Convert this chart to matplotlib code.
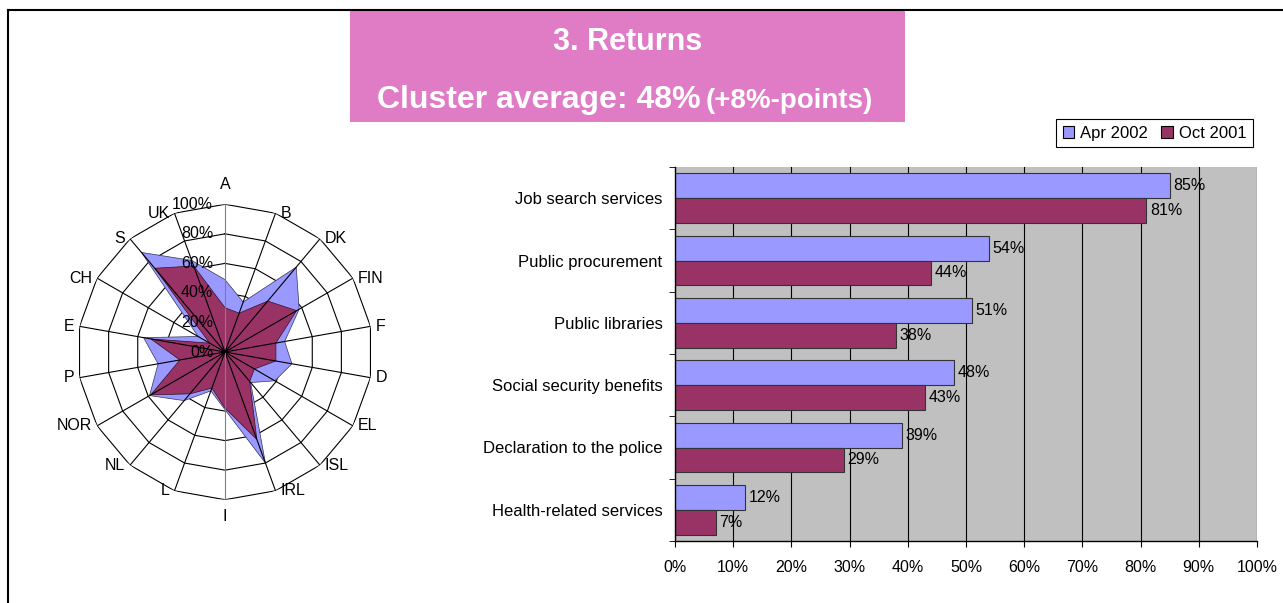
import numpy as np
import matplotlib
matplotlib.use('Agg')
import matplotlib.pyplot as plt
from matplotlib.patches import Rectangle, Patch
from matplotlib.lines import Line2D

plt.rcParams['font.family'] = ['Liberation Sans', 'DejaVu Sans']

# Radar data, clockwise from the top
countries = ['A', 'B', 'DK', 'FIN', 'F', 'D', 'EL', 'ISL', 'IRL', 'I',
             'L', 'NL', 'NOR', 'P', 'E', 'CH', 'S', 'UK']
radar_apr2002 = [49, 36, 75, 58, 41, 46, 39, 27, 80, 39, 28, 43, 59, 46, 56, 21, 88, 66]
radar_oct2001 = [30, 28, 45, 56, 35, 35, 23, 26, 63, 38, 26, 37, 58, 31, 51, 12, 74, 62]
ring_levels = [0, 20, 40, 60, 80, 100]

# Bar data, top to bottom
services = ['Job search services', 'Public procurement', 'Public libraries',
            'Social security benefits', 'Declaration to the police',
            'Health-related services']
bar_apr2002 = [85, 54, 51, 48, 39, 12]
bar_oct2001 = [81, 44, 38, 43, 29, 7]
x_ticks = [0, 10, 20, 30, 40, 50, 60, 70, 80, 90, 100]

BLUE = '#9999FF'
PURPLE = '#993366'
PINK = '#E07CC5'

W, H = 1283, 603
fig = plt.figure(figsize=(W / 100, H / 100), dpi=100)


def fx(px):
    return px / W


def fy(py):
    return 1 - py / H


# Frame
fig.add_artist(Line2D([fx(8), 1], [fy(10), fy(10)], color='black', lw=1.5))
fig.add_artist(Line2D([fx(8), fx(8)], [fy(10), 0], color='black', lw=1.5))

# Title box
fig.add_artist(Rectangle((fx(350), fy(122)), fx(905) - fx(350), fy(11) - fy(122),
                         facecolor=PINK, edgecolor='none'))
fig.text(fx(628), fy(50), '3. Returns', ha='center', va='baseline',
         color='white', fontsize=22, fontweight='bold')
fig.text(fx(701), fy(108), 'Cluster average: 48%', ha='right', va='baseline',
         color='white', fontsize=23, fontweight='bold')
fig.text(fx(706), fy(108), '(+8%-points)', ha='left', va='baseline',
         color='white', fontsize=20, fontweight='bold')

# Radar chart
ax_r = fig.add_axes([fx(77.3), fy(499.7), 295.4 / W, 295.4 / H], projection='polar')
ax_r.set_theta_zero_location('N')
ax_r.set_theta_direction(-1)
ax_r.set_ylim(0, 100)
ax_r.axis('off')

theta = np.deg2rad(np.arange(len(countries)) * 360 / len(countries))
theta_c = np.append(theta, theta[0])

for lvl in ring_levels[1:]:
    ax_r.plot(theta_c, [lvl] * len(theta_c), color='black', lw=0.8, zorder=1)

apr_c = radar_apr2002 + radar_apr2002[:1]
oct_c = radar_oct2001 + radar_oct2001[:1]
ax_r.fill(theta_c, apr_c, facecolor=BLUE, edgecolor='#333355', lw=0.5, zorder=2)
ax_r.fill(theta_c, oct_c, facecolor=PURPLE, edgecolor='#331122', lw=0.5, zorder=3)

for k, t in enumerate(theta):
    col = '#808080' if k in (0, 9) else 'black'
    ax_r.plot([t, t], [0, 100], color=col, lw=0.8, zorder=4)

for lvl in ring_levels:
    ax_r.annotate(f'{lvl}%', xy=(0, lvl), xytext=(-8.5, 0), textcoords='offset points',
                  ha='right', va='center', fontsize=11.5, zorder=5)

for k, name in enumerate(countries):
    deg = k * 360 / len(countries)
    if deg == 0:
        off, ha, va = (0, 9), 'center', 'bottom'
    elif deg == 180:
        off, ha, va = (0, -7), 'center', 'top'
    elif deg < 180:
        off, ha, va = (3.5, 0), 'left', 'center'
    else:
        off, ha, va = (-3.5, 0), 'right', 'center'
    ax_r.annotate(name, xy=(theta[k], 100), xytext=off, textcoords='offset points',
                  ha=ha, va=va, fontsize=11.5)

# Bar chart
ax_b = fig.add_axes([fx(675), fy(541), (1257 - 675) / W, (541 - 167) / H])
ax_b.set_facecolor('#C0C0C0')
y = np.arange(len(services))
ax_b.barh(y - 0.2, bar_apr2002, height=0.4, color=BLUE, edgecolor='#333333', lw=0.8)
ax_b.barh(y + 0.2, bar_oct2001, height=0.4, color=PURPLE, edgecolor='#333333', lw=0.8)

for yy, v in zip(y - 0.2, bar_apr2002):
    ax_b.annotate(f'{v}%', xy=(v, yy), xytext=(2.5, 0), textcoords='offset points',
                  ha='left', va='center', fontsize=11.5)
for yy, v in zip(y + 0.2, bar_oct2001):
    ax_b.annotate(f'{v}%', xy=(v, yy), xytext=(2.5, 0), textcoords='offset points',
                  ha='left', va='center', fontsize=11.5)

ax_b.set_xlim(0, 100)
ax_b.set_ylim(len(services) - 0.5, -0.5)
ax_b.set_xticks(x_ticks)
ax_b.set_xticklabels([f'{v}%' for v in x_ticks], fontsize=11.5)
ax_b.set_yticks(y)
ax_b.set_yticklabels(services, fontsize=12)
ax_b.set_yticks(np.arange(len(services) + 1) - 0.5, minor=True)
ax_b.tick_params(axis='y', which='major', length=0, pad=9)
ax_b.tick_params(axis='y', which='minor', length=4, direction='out', color='black')
ax_b.tick_params(axis='x', length=4, direction='out', pad=10, color='black')
ax_b.grid(axis='x', color='black', lw=0.8)
ax_b.set_axisbelow(True)
for s in ('top', 'right'):
    ax_b.spines[s].set_visible(False)
for s in ('left', 'bottom'):
    ax_b.spines[s].set_color('black')
    ax_b.spines[s].set_linewidth(1)

handles = [Patch(facecolor=BLUE, edgecolor='black', lw=0.8, label='Apr 2002'),
           Patch(facecolor=PURPLE, edgecolor='black', lw=0.8, label='Oct 2001')]
leg = fig.legend(handles=handles, loc='upper left', bbox_to_anchor=(fx(1056), fy(119)),
                 ncol=2, fontsize=12, frameon=True, fancybox=False, framealpha=1,
                 edgecolor='black', handlelength=0.7, handleheight=0.7,
                 handletextpad=0.35, columnspacing=0.8, borderpad=0.4,
                 borderaxespad=0)
leg.get_frame().set_linewidth(0.8)

fig.savefig('out.png', dpi=100)
